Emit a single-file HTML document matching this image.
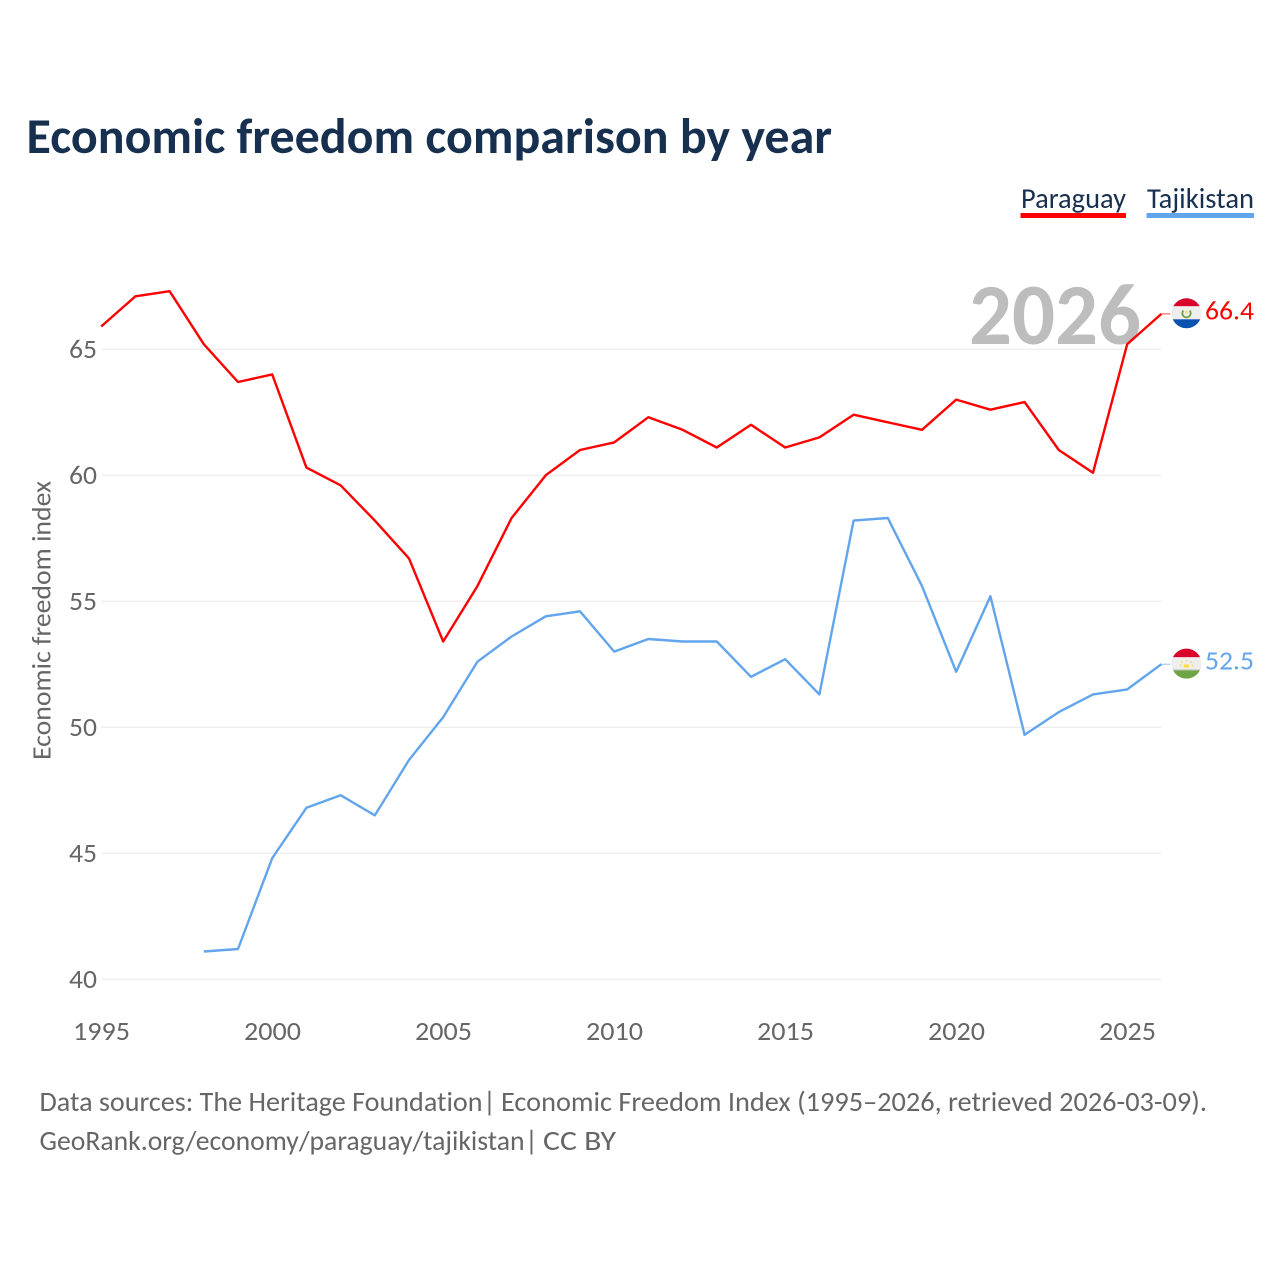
<!DOCTYPE html>
<html lang="en">
<head>
<meta charset="utf-8">
<title>Economic freedom comparison by year</title>
<style>
html,body{margin:0;padding:0;background:#fff;}
svg{display:block;}
text{font-family:"Carlito","Lato","Liberation Sans",sans-serif;font-variant-ligatures:none;}
</style>
</head>
<body>
<svg id="chart" xmlns="http://www.w3.org/2000/svg" width="1280" height="1280" viewBox="0 0 1280 1280">
  <rect x="0" y="0" width="1280" height="1280" fill="#fff"/>
  <defs>
    <clipPath id="flag-clip-py"><circle cx="1186.5" cy="313.3" r="15"/></clipPath>
    <clipPath id="flag-clip-tj"><circle cx="1186.5" cy="663.6" r="15"/></clipPath>
  </defs>
  <text x="26.5" y="153" font-size="50" font-weight="700" fill="#18304f" textLength="805.5" lengthAdjust="spacingAndGlyphs">Economic freedom comparison by year</text>

  <text x="1021" y="208" font-size="29" fill="#18304f" textLength="105" lengthAdjust="spacingAndGlyphs">Paraguay</text>
  <rect x="1020.5" y="213" width="105.5" height="5" fill="#ff0000"/>
  <text x="1147" y="208" font-size="29" fill="#18304f" textLength="107" lengthAdjust="spacingAndGlyphs">Tajikistan</text>
  <rect x="1146.5" y="213" width="107.5" height="5" fill="#62a5ec"/>

  <g id="grid"></g>
  <g id="y-ticks"></g>
  <g id="x-ticks"></g>

  <text transform="translate(50.5,760) rotate(-90)" font-size="27" fill="#666" textLength="279" lengthAdjust="spacingAndGlyphs">Economic freedom index</text>

  <text x="1141" y="344" text-anchor="end" font-size="87" font-weight="700" fill="#bdbdbd" textLength="172" lengthAdjust="spacingAndGlyphs">2026</text>

  <g id="series"></g>

  <g clip-path="url(#flag-clip-py)">
    <rect x="1171" y="298" width="31" height="8.3" fill="#d9002b"/>
    <rect x="1171" y="306.3" width="31" height="13" fill="#eeeeee"/>
    <rect x="1171" y="319.3" width="31" height="10" fill="#0a52b0"/>
    <path d="M1183.3 310.5 A4.2 4.2 0 1 0 1189.7 310.5" fill="none" stroke="#6da544" stroke-width="1.8"/>
    <circle cx="1186.5" cy="312" r="1.3" fill="#ffda44"/>
  </g>
  <text x="1254" y="319.5" text-anchor="end" font-size="27" fill="#ff0000" textLength="49" lengthAdjust="spacingAndGlyphs">66.4</text>

  <g clip-path="url(#flag-clip-tj)">
    <rect x="1171" y="648" width="31" height="9.3" fill="#d9002b"/>
    <rect x="1171" y="657.3" width="31" height="12" fill="#eeeeee"/>
    <rect x="1171" y="669.3" width="31" height="1.2" fill="#c4c4c4"/>
    <rect x="1171" y="670.5" width="31" height="10" fill="#6da544"/>
    <rect x="1184" y="664.5" width="5" height="3" fill="#ffda44"/>
    <circle cx="1186.5" cy="660.5" r="0.9" fill="#ffda44"/>
    <circle cx="1182" cy="662" r="0.9" fill="#ffda44"/>
    <circle cx="1191" cy="662" r="0.9" fill="#ffda44"/>
    <circle cx="1180.5" cy="665.5" r="0.9" fill="#ffda44"/>
    <circle cx="1192.5" cy="665.5" r="0.9" fill="#ffda44"/>
  </g>
  <text x="1254" y="669.5" text-anchor="end" font-size="27" fill="#62a5ec" textLength="49" lengthAdjust="spacingAndGlyphs">52.5</text>

  <g font-size="28" fill="#666">
    <text x="39.5" y="1111" textLength="443" lengthAdjust="spacingAndGlyphs">Data sources: The Heritage Foundation</text>
    <text x="483" y="1111">|</text>
    <text x="501" y="1111" textLength="706" lengthAdjust="spacingAndGlyphs">Economic Freedom Index (1995–2026, retrieved 2026-03-09).</text>
  </g>
  <g font-size="28" fill="#666">
    <text x="39.5" y="1150" textLength="485" lengthAdjust="spacingAndGlyphs">GeoRank.org/economy/paraguay/tajikistan</text>
    <text x="525" y="1150">|</text>
    <text x="543" y="1150" textLength="73" lengthAdjust="spacingAndGlyphs">CC BY</text>
  </g>
</svg>
<script>
const paraguayYears = [1995,1996,1997,1998,1999,2000,2001,2002,2003,2004,2005,2006,2007,2008,2009,2010,2011,2012,2013,2014,2015,2016,2017,2018,2019,2020,2021,2022,2023,2024,2025,2026];
const paraguayValues = [65.9,67.1,67.3,65.2,63.7,64.0,60.3,59.6,58.2,56.7,53.4,55.6,58.3,60.0,61.0,61.3,62.3,61.8,61.1,62.0,61.1,61.5,62.4,62.1,61.8,63.0,62.6,62.9,61.0,60.1,65.2,66.4];
const tajikistanYears = [1998,1999,2000,2001,2002,2003,2004,2005,2006,2007,2008,2009,2010,2011,2012,2013,2014,2015,2016,2017,2018,2019,2020,2021,2022,2023,2024,2025,2026];
const tajikistanValues = [41.1,41.2,44.8,46.8,47.3,46.5,48.7,50.4,52.6,53.6,54.4,54.6,53.0,53.5,53.4,53.4,52.0,52.7,51.3,58.2,58.3,55.6,52.2,55.2,49.7,50.6,51.3,51.5,52.5];
const yTickValues = [40,45,50,55,60,65];
const xTickValues = [1995,2000,2005,2010,2015,2020,2025];

const NS = 'http://www.w3.org/2000/svg';
function xScale(year){ return 101.2 + (year - 1995) * 34.2; }
function yScale(value){ return 979.2 - (value - 40) * 25.2; }

const gridGroup = document.getElementById('grid');
const yTickGroup = document.getElementById('y-ticks');
const xTickGroup = document.getElementById('x-ticks');
const seriesGroup = document.getElementById('series');

yTickValues.forEach(function(v){
  const line = document.createElementNS(NS,'line');
  
  
  line.setAttribute('x1', xScale(1995));
  line.setAttribute('x2', xScale(2026));
  line.setAttribute('y1', yScale(v));
  line.setAttribute('y2', yScale(v));
  line.setAttribute('stroke', '#e8e8e8');
  line.setAttribute('stroke-width', '1');
  gridGroup.appendChild(line);

  const label = document.createElementNS(NS,'text');
  
  
  label.setAttribute('x', 97);
  label.setAttribute('y', yScale(v) + 8.6);
  label.setAttribute('text-anchor', 'end');
  label.setAttribute('font-size', '27');
  label.setAttribute('fill', '#666');
  label.setAttribute('textLength', '28');
  label.setAttribute('lengthAdjust', 'spacingAndGlyphs');
  label.textContent = v;
  yTickGroup.appendChild(label);
});

xTickValues.forEach(function(y){
  const label = document.createElementNS(NS,'text');
  
  
  label.setAttribute('x', xScale(y) + 0.3);
  label.setAttribute('y', 1040);
  label.setAttribute('text-anchor', 'middle');
  label.setAttribute('font-size', '27');
  label.setAttribute('fill', '#666');
  label.setAttribute('textLength', '57');
  label.setAttribute('lengthAdjust', 'spacingAndGlyphs');
  label.textContent = y;
  xTickGroup.appendChild(label);
});

function drawSeries(years, values, color, name){
  const d = values.map(function(v,i){
    return (i ? 'L' : 'M') + xScale(years[i]).toFixed(1) + ' ' + yScale(v).toFixed(1);
  }).join(' ');
  const path = document.createElementNS(NS,'path');
  
  
  path.setAttribute('d', d);
  path.setAttribute('fill', 'none');
  path.setAttribute('stroke', color);
  path.setAttribute('stroke-width', '2.4');
  path.setAttribute('stroke-linejoin', 'round');
  seriesGroup.appendChild(path);

  const lastY = yScale(values[values.length - 1]);
  const connector = document.createElementNS(NS,'line');
  
  
  connector.setAttribute('x1', xScale(years[years.length - 1]));
  connector.setAttribute('x2', xScale(years[years.length - 1]) + 9);
  connector.setAttribute('y1', lastY);
  connector.setAttribute('y2', lastY);
  connector.setAttribute('stroke', color);
  connector.setAttribute('stroke-width', '1');
  connector.setAttribute('opacity', '0.7');
  seriesGroup.appendChild(connector);
}
drawSeries(paraguayYears, paraguayValues, '#ff0000', 'line-paraguay');
drawSeries(tajikistanYears, tajikistanValues, '#62a5ec', 'line-tajikistan');
</script>
</body>
</html>
